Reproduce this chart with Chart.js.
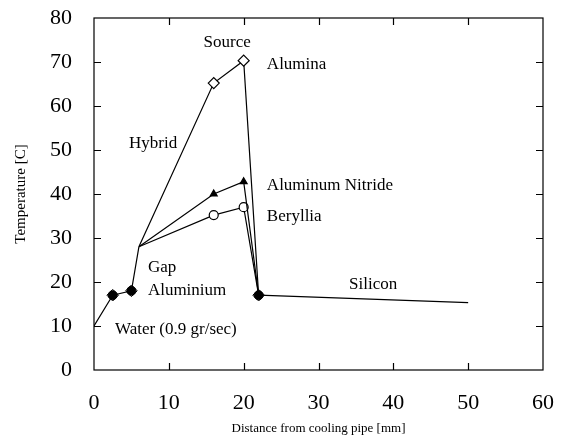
<!DOCTYPE html>
<html>
<head>
<meta charset="utf-8">
<script src="https://cdn.jsdelivr.net/npm/chart.js@4.4.1/dist/chart.umd.min.js"></script>
<style>
  html, body { margin: 0; padding: 0; background: #fff; }
  #wrap { width: 568px; height: 437px; }
</style>
</head>
<body>
<div id="wrap"><canvas id="tempChart"></canvas></div>
<script>
// Common path from the cooling pipe through water and aluminium up to the gap
const baseX = [0, 2.5, 5, 6];
const baseY = [10, 17, 18, 28];

// Hybrid substrate variants: gap -> source -> end of substrate
const hybridX = [6, 16, 20, 22];
const aluminaY = [28, 65.2, 70.3, 17];
const nitrideY = [28, 40, 42.8, 17];
const berylliaY = [28, 35.2, 37, 17];

// Silicon run-out
const siliconX = [22, 50];
const siliconY = [17, 15.3];

// Joint markers (water/aluminium/silicon)
const jointX = [2.5, 5, 22];
const jointY = [17, 18, 17];

const xTicks = [0, 10, 20, 30, 40, 50, 60];
const yTicks = [0, 10, 20, 30, 40, 50, 60, 70, 80];

// Text annotations: [text, x, y, align]
const notes = [
  ['Source', 17.8, 74.5, 'center'],
  ['Alumina', 23.1, 69.5, 'left'],
  ['Hybrid', 7.9, 51.4, 'center'],
  ['Aluminum Nitride', 23.1, 42, 'left'],
  ['Beryllia', 23.1, 34.8, 'left'],
  ['Gap', 7.2, 23.2, 'left'],
  ['Aluminium', 7.2, 18, 'left'],
  ['Water (0.9 gr/sec)', 2.8, 9.1, 'left'],
  ['Silicon', 37.3, 19.5, 'center']
];

const serif = '"Liberation Serif", "DejaVu Serif", serif';

function pts(xs, ys) {
  return xs.map((x, i) => ({ x: x, y: ys[i] }));
}

// point radius only on the source points of a hybrid line
const srcOnly = (r) => (ctx) => (ctx.dataIndex === 1 || ctx.dataIndex === 2) ? r : 0;

const lineBase = {
  borderColor: '#000',
  borderWidth: 1.2,
  showLine: true,
  tension: 0,
  fill: false
};

// frame with inward ticks on all four sides + text labels
const framePlugin = {
  id: 'frame',
  afterDatasetsDraw(chart) {
    const { ctx, chartArea: a, scales: { x, y } } = chart;
    ctx.save();
    ctx.strokeStyle = '#000';
    ctx.lineWidth = 1.2;
    ctx.strokeRect(a.left, a.top, a.right - a.left, a.bottom - a.top);
    const len = 7;
    ctx.beginPath();
    xTicks.slice(1, -1).forEach(v => {
      const px = Math.round(x.getPixelForValue(v)) + 0.5;
      ctx.moveTo(px, a.bottom); ctx.lineTo(px, a.bottom - len);
      ctx.moveTo(px, a.top); ctx.lineTo(px, a.top + len);
    });
    yTicks.slice(1, -1).forEach(v => {
      const py = Math.round(y.getPixelForValue(v)) + 0.5;
      ctx.moveTo(a.left, py); ctx.lineTo(a.left + len, py);
      ctx.moveTo(a.right, py); ctx.lineTo(a.right - len, py);
    });
    ctx.stroke();

    ctx.fillStyle = '#000';
    ctx.font = '17px ' + serif;
    ctx.textBaseline = 'middle';
    notes.forEach(([t, nx, ny, al]) => {
      ctx.textAlign = al;
      ctx.fillText(t, x.getPixelForValue(nx), y.getPixelForValue(ny));
    });
    ctx.restore();
  }
};

new Chart(document.getElementById('tempChart'), {
  type: 'scatter',
  data: {
    datasets: [
      { ...lineBase, label: 'Base', data: pts(baseX, baseY), pointRadius: 0 },
      {
        ...lineBase, label: 'Alumina', data: pts(hybridX, aluminaY),
        pointStyle: 'rectRot', pointRadius: srcOnly(5.5),
        pointBackgroundColor: '#fff', pointBorderColor: '#000', pointBorderWidth: 1.2
      },
      {
        ...lineBase, label: 'Aluminum Nitride', data: pts(hybridX, nitrideY),
        pointStyle: 'triangle', pointRadius: srcOnly(4),
        pointBackgroundColor: '#000', pointBorderColor: '#000'
      },
      {
        ...lineBase, label: 'Beryllia', data: pts(hybridX, berylliaY),
        pointStyle: 'circle', pointRadius: srcOnly(4.5),
        pointBackgroundColor: '#fff', pointBorderColor: '#000', pointBorderWidth: 1.2
      },
      { ...lineBase, label: 'Silicon', data: pts(siliconX, siliconY), pointRadius: 0 },
      {
        label: 'Joint', data: pts(jointX, jointY), showLine: false,
        pointStyle: 'circle', pointRadius: 4.5,
        pointBackgroundColor: '#000', pointBorderColor: '#000'
      },
      {
        label: 'Joint outline', data: pts(jointX, jointY), showLine: false,
        pointStyle: 'rectRot', pointRadius: 5.8,
        pointBackgroundColor: 'rgba(0,0,0,0)', pointBorderColor: '#000', pointBorderWidth: 1
      }
    ]
  },
  options: {
    responsive: true,
    maintainAspectRatio: false,
    animation: false,
    layout: { padding: { top: 18, right: 25, left: 0, bottom: 0 } },
    plugins: {
      legend: { display: false },
      tooltip: { enabled: false }
    },
    scales: {
      x: {
        type: 'linear', min: 0, max: 60,
        afterBuildTicks: (s) => { s.ticks = xTicks.map(v => ({ value: v })); },
        afterFit: (s) => { s.height = 67; s.paddingLeft = 0; s.paddingRight = 0; },
        grid: { display: false, drawTicks: false },
        border: { display: false },
        ticks: { color: '#000', padding: 20, maxRotation: 0, font: { family: serif, size: 22 } },
        title: {
          display: true, text: 'Distance from cooling pipe [mm]', color: '#000',
          font: { family: serif, size: 13 }, padding: { top: 0, bottom: 1 }
        }
      },
      y: {
        type: 'linear', min: 0, max: 80,
        afterBuildTicks: (s) => { s.ticks = yTicks.map(v => ({ value: v })); },
        afterFit: (s) => { s.width = 94; s.paddingTop = 0; s.paddingBottom = 0; },
        grid: { display: false, drawTicks: false },
        border: { display: false },
        ticks: { color: '#000', padding: 22, font: { family: serif, size: 22 } },
        title: {
          display: true, text: 'Temperature [C]', color: '#000',
          font: { family: serif, size: 15 }, padding: { top: 12, bottom: 0 }
        }
      }
    }
  },
  plugins: [framePlugin]
});
</script>
</body>
</html>
